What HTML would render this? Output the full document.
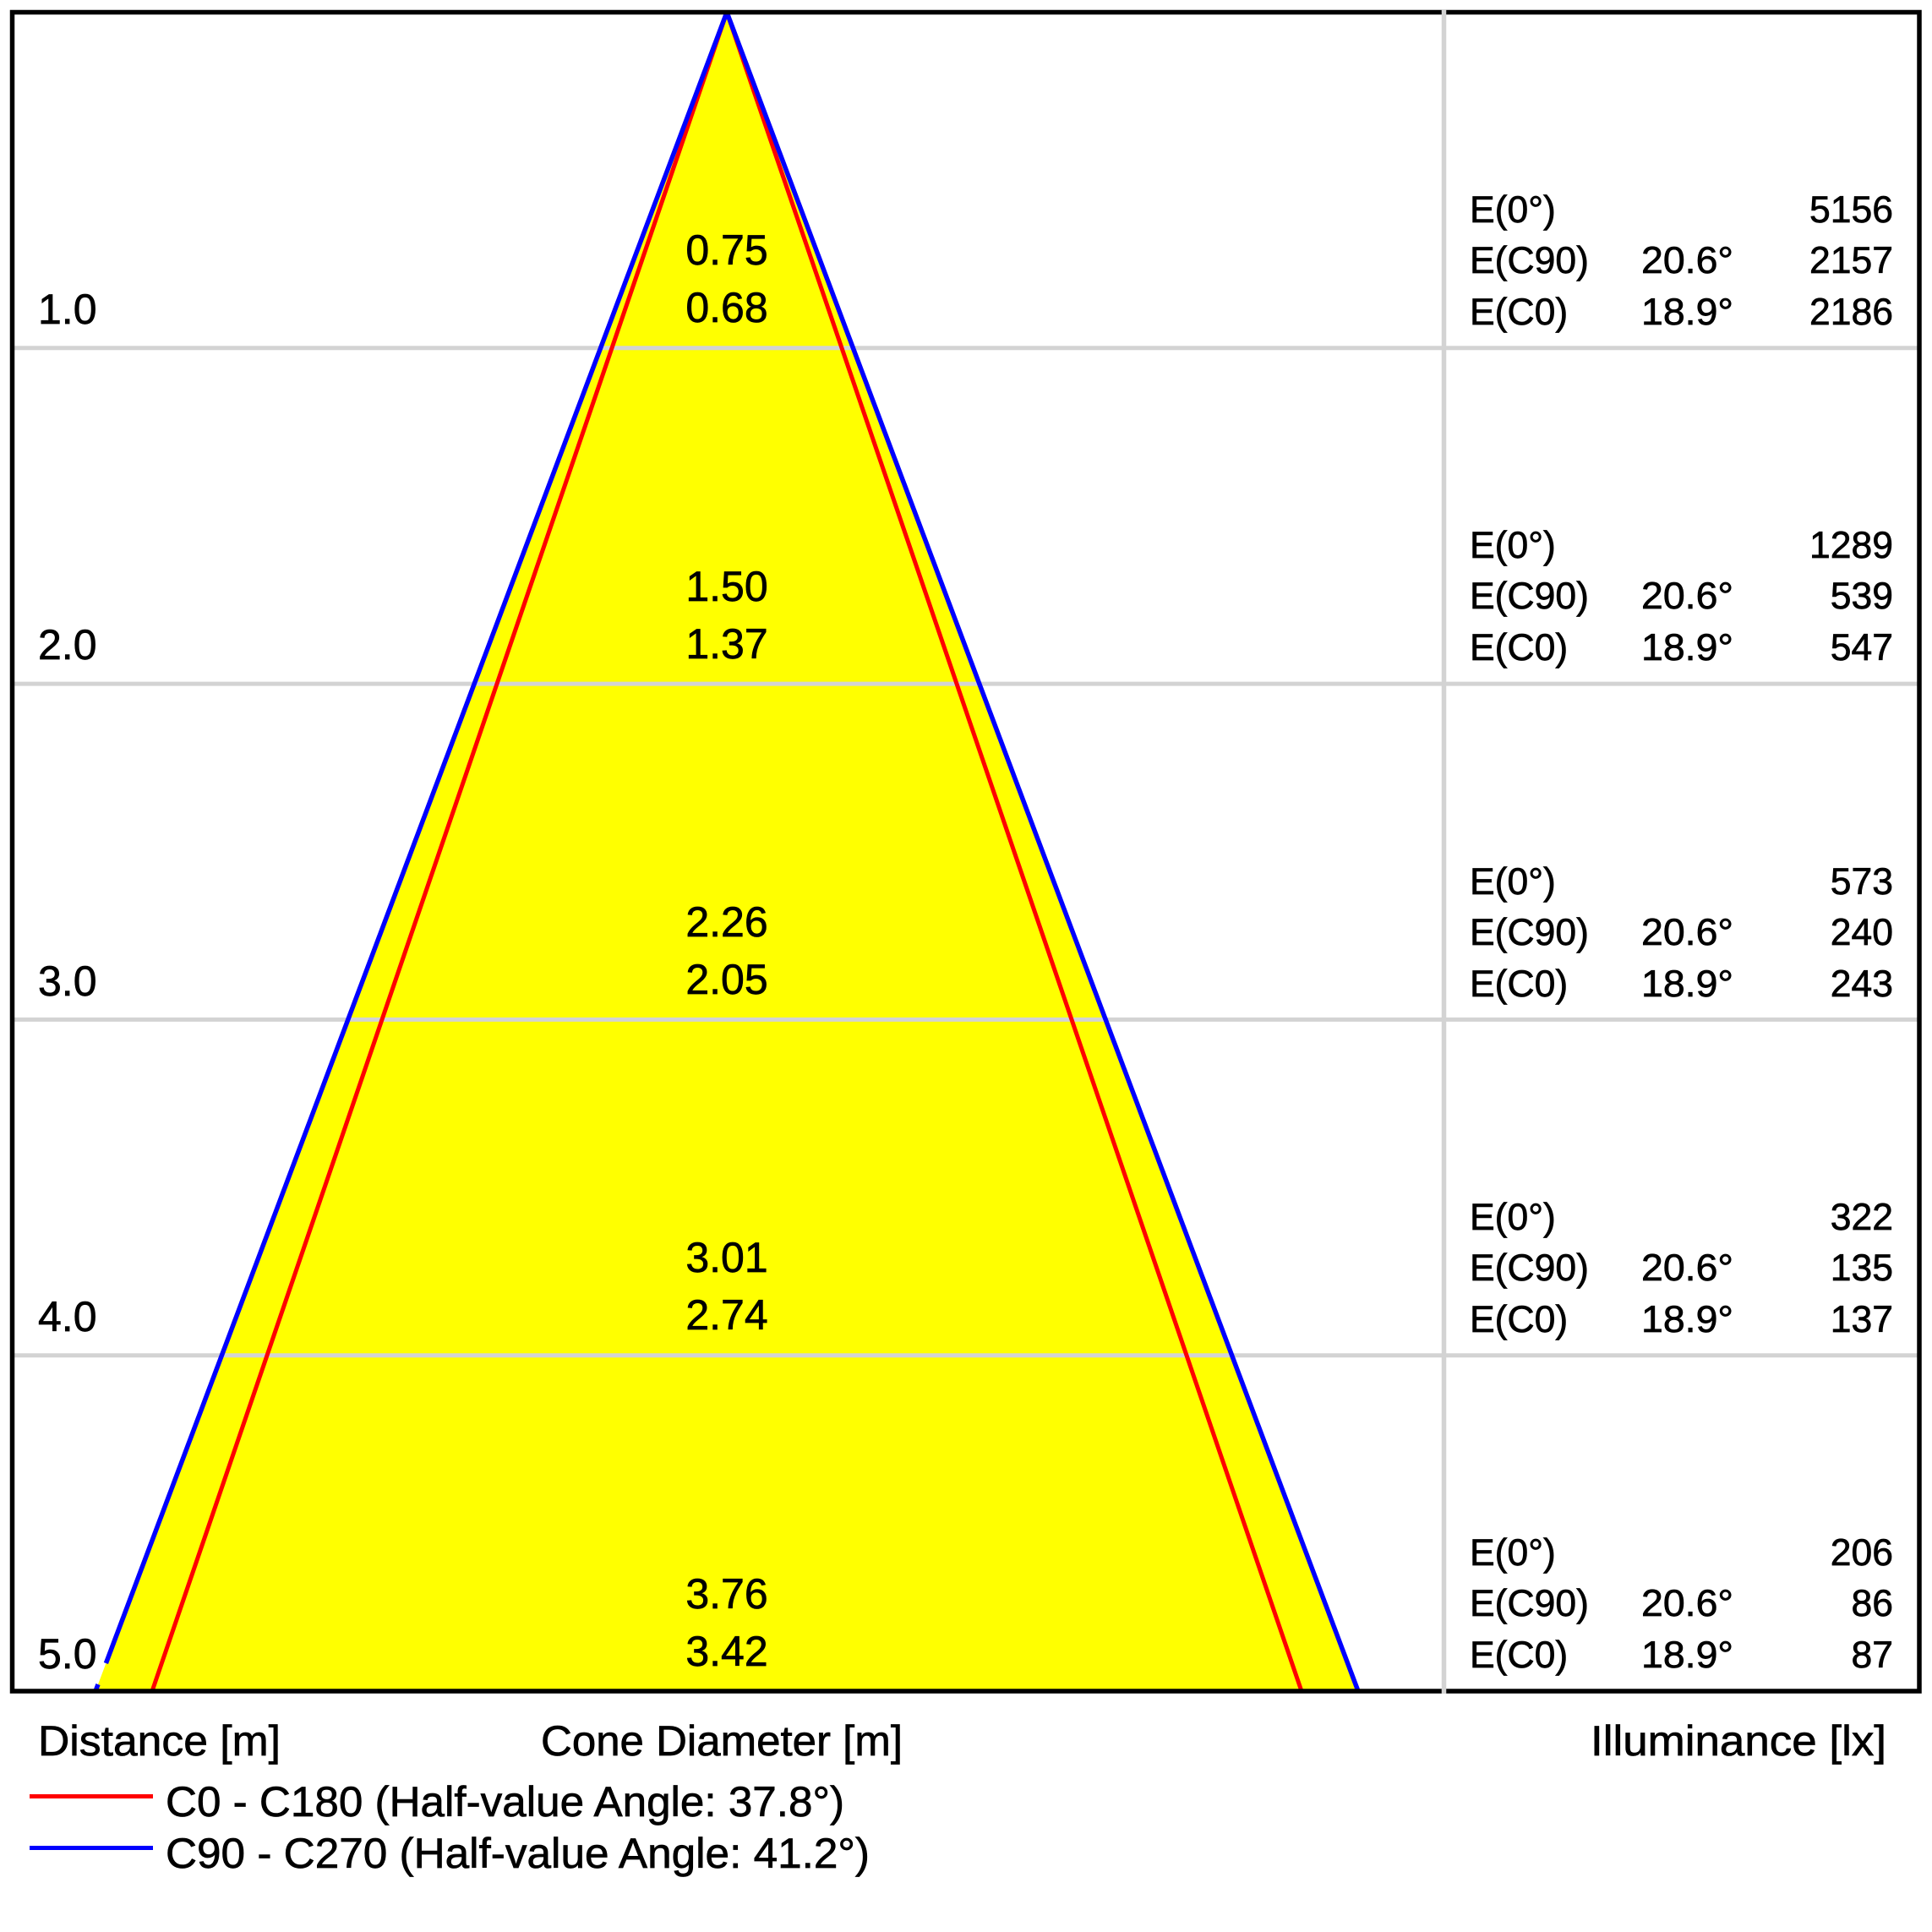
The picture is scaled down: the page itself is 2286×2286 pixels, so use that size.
<!DOCTYPE html>
<html>
<head>
<meta charset="utf-8">
<style>
  html, body { margin: 0; padding: 0; background: #ffffff; }
  svg { display: block; }
  text { font-family: "Liberation Sans", Arial, sans-serif; fill: #000; stroke: #000; stroke-width: 0.7; }
</style>
</head>
<body>
<svg width="2286" height="2286" viewBox="0 0 2286 2286" xmlns="http://www.w3.org/2000/svg">
  <rect x="0" y="0" width="2286" height="2286" fill="#ffffff"/>

  <!-- yellow cone (outer, C90) -->
  <polygon points="860,14.5 113,2001 1607,2001" fill="#ffff00"/>

  <!-- horizontal gridlines -->
  <g stroke="#d3d3d3" stroke-width="5">
    <line x1="12.5" y1="411.8" x2="2273.5" y2="411.8"/>
    <line x1="12.5" y1="809.1" x2="2273.5" y2="809.1"/>
    <line x1="12.5" y1="1206.4" x2="2273.5" y2="1206.4"/>
    <line x1="12.5" y1="1603.7" x2="2273.5" y2="1603.7"/>
  </g>

  <!-- red lines C0-C180 -->
  <g stroke="#ff0000" stroke-width="5" stroke-linecap="butt">
    <line x1="860" y1="14.5" x2="180" y2="2001"/>
    <line x1="860" y1="14.5" x2="1540" y2="2001"/>
  </g>
  <!-- blue lines C90-C270 -->
  <g stroke="#0000ff" stroke-width="5.5" stroke-linecap="butt">
    <line x1="860" y1="14.5" x2="125.4" y2="1968"/>
    <line x1="116" y1="1993" x2="113" y2="2001"/>
    <line x1="860" y1="14.5" x2="1607" y2="2001"/>
  </g>

  <!-- frame -->
  <rect x="14.5" y="14.5" width="2256.5" height="1986.5" fill="none" stroke="#000" stroke-width="5.5"/>
  <!-- vertical separator -->
  <line x1="1708.5" y1="11" x2="1708.5" y2="2004" stroke="#d3d3d3" stroke-width="5.5"/>

  <!-- distance labels -->
  <g font-size="50">
    <text x="45" y="383">1.0</text>
    <text x="45" y="780">2.0</text>
    <text x="45" y="1178">3.0</text>
    <text x="45" y="1575">4.0</text>
    <text x="45" y="1974">5.0</text>
  </g>

  <!-- cone diameter labels -->
  <g font-size="50" text-anchor="middle">
    <text x="860" y="313">0.75</text>
    <text x="860" y="381">0.68</text>
    <text x="860" y="711">1.50</text>
    <text x="860" y="779">1.37</text>
    <text x="860" y="1108">2.26</text>
    <text x="860" y="1176">2.05</text>
    <text x="860" y="1505">3.01</text>
    <text x="860" y="1573">2.74</text>
    <text x="860" y="1903">3.76</text>
    <text x="860" y="1971">3.42</text>
  </g>

  <!-- illuminance table -->
  <g font-size="44.5">
    <!-- block 1 -->
    <text x="1739" y="263">E(0°)</text>
    <text x="1739" y="323">E(C90)</text>
    <text x="1739" y="384">E(C0)</text>
    <text x="1942" y="323" textLength="109" lengthAdjust="spacingAndGlyphs">20.6°</text>
    <text x="1942" y="384" textLength="109" lengthAdjust="spacingAndGlyphs">18.9°</text>
    <!-- block 2 -->
    <text x="1739" y="660">E(0°)</text>
    <text x="1739" y="720">E(C90)</text>
    <text x="1739" y="781">E(C0)</text>
    <text x="1942" y="720" textLength="109" lengthAdjust="spacingAndGlyphs">20.6°</text>
    <text x="1942" y="781" textLength="109" lengthAdjust="spacingAndGlyphs">18.9°</text>
    <!-- block 3 -->
    <text x="1739" y="1058">E(0°)</text>
    <text x="1739" y="1118">E(C90)</text>
    <text x="1739" y="1179">E(C0)</text>
    <text x="1942" y="1118" textLength="109" lengthAdjust="spacingAndGlyphs">20.6°</text>
    <text x="1942" y="1179" textLength="109" lengthAdjust="spacingAndGlyphs">18.9°</text>
    <!-- block 4 -->
    <text x="1739" y="1455">E(0°)</text>
    <text x="1739" y="1515">E(C90)</text>
    <text x="1739" y="1576">E(C0)</text>
    <text x="1942" y="1515" textLength="109" lengthAdjust="spacingAndGlyphs">20.6°</text>
    <text x="1942" y="1576" textLength="109" lengthAdjust="spacingAndGlyphs">18.9°</text>
    <!-- block 5 -->
    <text x="1739" y="1852">E(0°)</text>
    <text x="1739" y="1912">E(C90)</text>
    <text x="1739" y="1973">E(C0)</text>
    <text x="1942" y="1912" textLength="109" lengthAdjust="spacingAndGlyphs">20.6°</text>
    <text x="1942" y="1973" textLength="109" lengthAdjust="spacingAndGlyphs">18.9°</text>
  </g>
  <g font-size="44.5" text-anchor="end">
    <text x="2240" y="263">5156</text>
    <text x="2240" y="323">2157</text>
    <text x="2240" y="384">2186</text>
    <text x="2240" y="660">1289</text>
    <text x="2240" y="720">539</text>
    <text x="2240" y="781">547</text>
    <text x="2240" y="1058">573</text>
    <text x="2240" y="1118">240</text>
    <text x="2240" y="1179">243</text>
    <text x="2240" y="1455">322</text>
    <text x="2240" y="1515">135</text>
    <text x="2240" y="1576">137</text>
    <text x="2240" y="1852">206</text>
    <text x="2240" y="1912">86</text>
    <text x="2240" y="1973">87</text>
  </g>

  <!-- axis titles -->
  <g font-size="50">
    <text x="45" y="2077" textLength="287" lengthAdjust="spacingAndGlyphs">Distance [m]</text>
    <text x="640" y="2077" textLength="428" lengthAdjust="spacingAndGlyphs">Cone Diameter [m]</text>
    <text x="1882" y="2077" textLength="350" lengthAdjust="spacingAndGlyphs">Illuminance [lx]</text>
  </g>

  <!-- legend -->
  <line x1="35" y1="2125.5" x2="181" y2="2125.5" stroke="#ff0000" stroke-width="5"/>
  <line x1="35" y1="2186.5" x2="181" y2="2186.5" stroke="#0000ff" stroke-width="5"/>
  <g font-size="50">
    <text x="196" y="2149" textLength="803" lengthAdjust="spacingAndGlyphs">C0 - C180 (Half-value Angle: 37.8°)</text>
    <text x="196" y="2210" textLength="833" lengthAdjust="spacingAndGlyphs">C90 - C270 (Half-value Angle: 41.2°)</text>
  </g>
</svg>
</body>
</html>
